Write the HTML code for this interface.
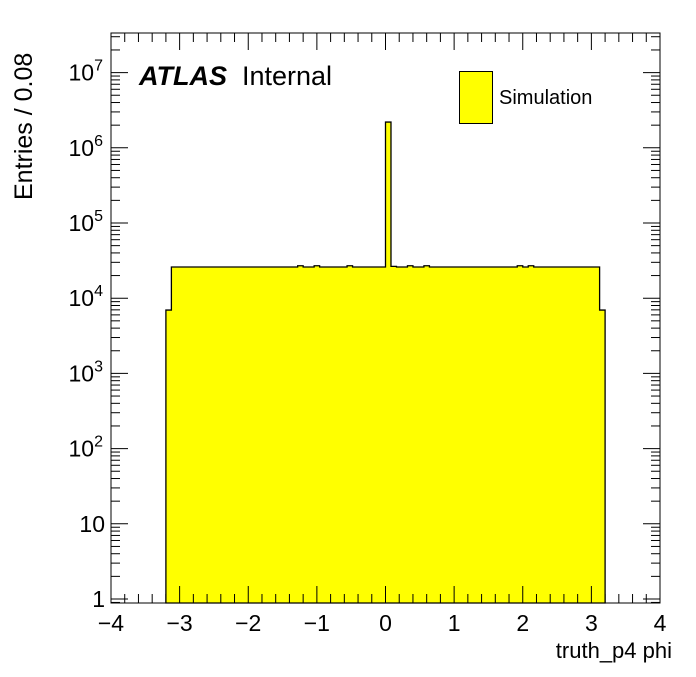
<!DOCTYPE html>
<html><head><meta charset="utf-8"><style>
body{margin:0;background:#fff}
svg text{font-family:"Liberation Sans",sans-serif}
</style></head><body>
<svg id="c" width="696" height="672"></svg>
<script>
const binLow = -3.2, binWidth = 0.08;
const counts = [];
for (let i = 0; i < 80; i++) counts.push(26000);
counts[0] = 6950; counts[79] = 6950;
counts[24] = 27000; counts[27] = 27000; counts[33] = 27000;
counts[40] = 2200000; counts[41] = 26500;
counts[44] = 27000; counts[47] = 27000; counts[64] = 27000; counts[66] = 27000;
const xTicks = [-4,-3,-2,-1,0,1,2,3,4];
const yTickLabels = ["1","10","10^2","10^3","10^4","10^5","10^6","10^7"];

const NS="http://www.w3.org/2000/svg";
const svg=document.getElementById('c');
const L=111,R=660,T=33,B=603;
const X=v=>L+(v+4)*(R-L)/8;
const Y=v=>599-Math.log10(v)*75.2;
function el(t,a,p){const e=document.createElementNS(NS,t);for(const k in a)e.setAttribute(k,a[k]);(p||svg).appendChild(e);return e;}

let d=`M${X(binLow)},${B}`;
counts.forEach((c,i)=>{const x0=X(binLow+i*binWidth),x1=X(binLow+(i+1)*binWidth),y=Math.max(T,Math.min(B,Y(c)));d+=` L${x0},${y} L${x1},${y}`;});
d+=` L${X(binLow+counts.length*binWidth)},${B} Z`;
const h=el('path',{d:d,fill:'#ffff00',stroke:'#000','stroke-width':1.3});



const f=el('rect',{x:L,y:T,width:R-L,height:B-T,fill:'none',stroke:'#000','stroke-width':1});



for(let v=-4;v<=4.001;v+=0.2){
  const major=Math.abs(v-Math.round(v))<1e-6;const len=major?17:9;const x=X(v);
  el('line',{x1:x,x2:x,y1:B,y2:B-len,stroke:'#000'});
  el('line',{x1:x,x2:x,y1:T,y2:T+len,stroke:'#000'});
}
xTicks.forEach(v=>{
  const t=el('text',{x:X(v),y:631,'font-size':23,'text-anchor':'middle'});
  t.textContent=(v<0?'\u2212'+(-v):String(v));
  
  
});
for(let e=-1;e<8;e++){
  for(let m=1;m<10;m++){
    const v=m*Math.pow(10,e);const y=Y(v);if(y<T||y>B)continue;
    const len=m==1?17:9;
    el('line',{x1:L,x2:L+len,y1:y,y2:y,stroke:'#000'});
    el('line',{x1:R,x2:R-len,y1:y,y2:y,stroke:'#000'});
  }
}
yTickLabels.forEach((s,i)=>{
  const y=Y(Math.pow(10,i));
  const t=el('text',{x:105,y:y+8,'font-size':23,'text-anchor':'end'});
  
  
  if(s.indexOf('^')>0){
    const [b,p]=s.split('^');
    const t1=el('tspan',{},t);t1.textContent=b;
    const t2=el('tspan',{dy:-10,'font-size':16},t);t2.textContent=p;
    t.setAttribute('x',103);
  } else t.textContent=s;
});
</script>
<div style="position:absolute;left:0;top:0;width:696px;height:672px;pointer-events:none;font-family:'Liberation Sans',sans-serif">
<div style="position:absolute;right:24px;top:638px;font-size:22px">truth_p4 phi</div>
<div style="position:absolute;left:10px;top:200px;font-size:25px;transform:rotate(-90deg);transform-origin:0 0;white-space:nowrap">Entries / 0.08</div>
<div style="position:absolute;left:139px;top:61px;font-size:27px;white-space:nowrap"><b><i>ATLAS</i></b>&nbsp;&nbsp;Internal</div>
<div style="position:absolute;left:459px;top:71px;width:32px;height:51px;background:#ff0;border:1px solid #000"></div>
<div style="position:absolute;left:499px;top:87px;font-size:20px">Simulation</div>
</div>
</body></html>
